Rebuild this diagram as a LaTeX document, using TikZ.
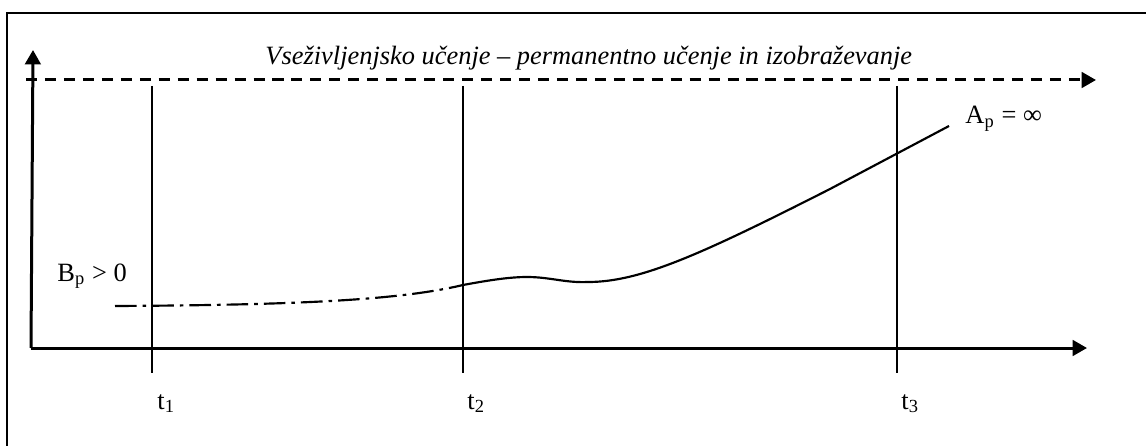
\documentclass[tikz,border=0pt]{standalone}
\usepackage{fontspec}
\setmainfont{Liberation Serif}
\usetikzlibrary{arrows.meta}
\tikzset{
  axisline/.style={line width=1.25pt,-{Triangle[length=6pt,width=6.5pt]}},
  lifelong/.style={line width=1.25pt,dash pattern=on 4.6pt off 3.3pt,-{Triangle[length=6pt,width=6.5pt]}},
  tline/.style={line width=0.8pt},
  curvesolid/.style={line width=0.9pt},
  curvedash/.style={line width=0.9pt,dash pattern=on 9pt off 2.5pt on 1.5pt off 2.5pt},
  lbl/.style={inner sep=0pt,anchor=base west,font=\fontsize{11}{13}\selectfont},
  framestyle/.style={line width=1pt}
}
\begin{document}
\begin{tikzpicture}[x=0.41667pt,y=-0.41667pt]
\useasboundingbox (0,0) rectangle (1146,446);
% frame (only top and left visible)
\coordinate (FBL) at (7,450);
\coordinate (FTL) at (7,13);
\coordinate (FTR) at (1150,13);
\draw[framestyle] (FBL) -- (FTL) -- (FTR);
% axes
\coordinate (O) at (31,348);
\coordinate (Ytop) at (33,50);
\coordinate (Xend) at (1087,348);
\draw[axisline] (O) -- (Ytop);
\draw[axisline] (O) -- (Xend);
% lifelong dashed arrow
\coordinate (Ls) at (26,80);
\coordinate (Le) at (1096,80);
\draw[lifelong] (Ls) -- (Le);
% time lines
\coordinate (t1a) at (152,86); \coordinate (t1b) at (152,373);
\coordinate (t2a) at (463,86); \coordinate (t2b) at (463,373);
\coordinate (t3a) at (897,86); \coordinate (t3b) at (897,373);
\draw[tline] (t1a) -- (t1b);
\draw[tline] (t2a) -- (t2b);
\draw[tline] (t3a) -- (t3b);
% curve
\coordinate (C0) at (115,306);
\coordinate (C1) at (463,285);
\coordinate (C2) at (527,277);
\coordinate (C3) at (588,282);
\coordinate (C4) at (830,189);
\coordinate (C5) at (949,126);
\draw[curvedash] (C0) .. controls (300,305) and (400,300) .. (C1);
\draw[curvesolid] (C1) .. controls (490,280) and (510,277) .. (C2)
  .. controls (550,277) and (565,283) .. (C3)
  .. controls (640,282) and (700,255) .. (C4) -- (C5);
% labels
\node[lbl,font=\fontsize{11}{13}\selectfont\itshape] (title) at (265,65) {Vseživljenjsko učenje – permanentno učenje in izobraževanje};
\node[lbl] (Bp) at (57,281) {B\textsubscript{p} > 0};
\node[lbl] (Ap) at (965,124) {A\textsubscript{p} = ∞};
\node[lbl] (lt1) at (157,409) {t\textsubscript{1}};
\node[lbl] (lt2) at (467,409) {t\textsubscript{2}};
\node[lbl] (lt3) at (901,409) {t\textsubscript{3}};
\end{tikzpicture}
\end{document}
